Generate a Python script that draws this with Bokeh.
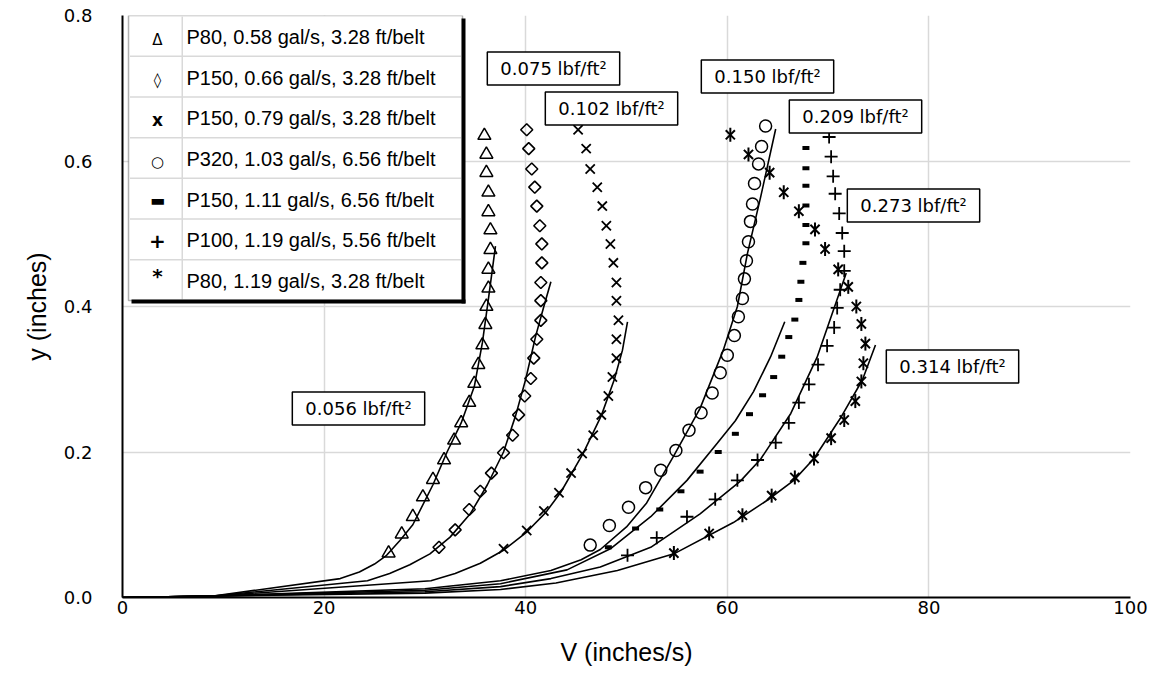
import math
from bokeh.plotting import figure
from bokeh.models import Range1d, Label, BoxAnnotation, FixedTicker, NumeralTickFormatter
from bokeh.embed import file_html
from bokeh.resources import INLINE

# ---------------- data ----------------
x_ticks = [0, 20, 40, 60, 80, 100]
y_ticks = [0.0, 0.2, 0.4, 0.6, 0.8]

# P80, 0.58 gal/s (triangles)
tri_v = [35.9, 36.1, 36.1, 36.3, 36.3, 36.5, 36.5, 36.3, 36.3, 36.1, 36.0, 35.7, 35.3, 34.9, 34.4, 33.6, 32.9, 31.9, 30.8, 29.8, 28.8, 27.7, 26.4]
tri_y = [0.635, 0.609, 0.584, 0.557, 0.530, 0.505, 0.478, 0.451, 0.425, 0.400, 0.375, 0.347, 0.320, 0.294, 0.268, 0.240, 0.216, 0.189, 0.162, 0.138, 0.111, 0.087, 0.061]
tri_fit_v = [0, 9, 21.6, 23.5, 25.0, 26.2, 27.5, 28.8, 30.8, 32.2, 33.6, 34.9, 35.7, 36.3, 37.0]
tri_fit_y = [0, 0.002, 0.026, 0.035, 0.046, 0.058, 0.078, 0.100, 0.155, 0.200, 0.240, 0.290, 0.350, 0.410, 0.483]

# P150, 0.66 gal/s (diamonds)
dia_v = [40.1, 40.3, 40.6, 40.9, 41.1, 41.4, 41.6, 41.6, 41.5, 41.5, 41.5, 41.1, 40.8, 40.5, 39.9, 39.3, 38.7, 37.8, 36.6, 35.5, 34.4, 33.0, 31.4]
dia_y = [0.643, 0.617, 0.589, 0.564, 0.538, 0.511, 0.486, 0.460, 0.433, 0.408, 0.381, 0.355, 0.329, 0.301, 0.277, 0.251, 0.223, 0.199, 0.171, 0.146, 0.121, 0.093, 0.069]
dia_fit_v = [0, 9, 24.3, 26.5, 28.5, 30.5, 32.5, 34.5, 36.2, 37.8, 39.0, 40.0, 41.0, 41.8, 42.5]
dia_fit_y = [0, 0.002, 0.023, 0.033, 0.045, 0.060, 0.083, 0.115, 0.155, 0.200, 0.250, 0.300, 0.360, 0.400, 0.434]

# P150, 0.79 gal/s (x)
x_v = [45.2, 46.0, 46.4, 47.1, 47.6, 48.0, 48.4, 48.7, 49.0, 49.0, 49.2, 49.0, 49.0, 48.6, 48.2, 47.5, 46.7, 45.6, 44.5, 43.3, 41.8, 40.1, 37.8]
x_y = [0.643, 0.617, 0.589, 0.564, 0.538, 0.511, 0.486, 0.460, 0.433, 0.408, 0.381, 0.355, 0.329, 0.303, 0.277, 0.251, 0.223, 0.198, 0.171, 0.144, 0.119, 0.092, 0.067]
x_fit_v = [0, 9, 30.6, 33.0, 35.5, 37.8, 40.1, 42.0, 43.5, 45.7, 47.5, 48.8, 49.6, 50.1]
x_fit_y = [0, 0.002, 0.023, 0.033, 0.047, 0.065, 0.090, 0.117, 0.145, 0.198, 0.250, 0.300, 0.340, 0.379]

# P320, 1.03 gal/s (circles)
cir_v = [63.8, 63.4, 63.1, 62.7, 62.5, 62.3, 62.1, 61.9, 61.7, 61.5, 61.1, 60.7, 60.0, 59.3, 58.5, 57.4, 56.2, 54.9, 53.4, 51.9, 50.2, 48.3, 46.4]
cir_y = [0.648, 0.620, 0.596, 0.569, 0.541, 0.517, 0.489, 0.463, 0.438, 0.411, 0.386, 0.360, 0.333, 0.309, 0.281, 0.254, 0.230, 0.202, 0.175, 0.151, 0.124, 0.099, 0.072]
cir_fit_v = [0, 9, 30, 37.5, 42.5, 45.5, 47.4, 50.0, 52.0, 54.7, 57.3, 59.6, 61.0, 62.0, 63.3, 64.8]
cir_fit_y = [0, 0.002, 0.012, 0.023, 0.037, 0.052, 0.066, 0.097, 0.130, 0.195, 0.260, 0.340, 0.400, 0.473, 0.550, 0.644]

# P150, 1.11 gal/s (dashes)
dash_v = [67.8, 67.8, 67.8, 67.8, 67.8, 67.8, 67.5, 67.3, 67.1, 66.7, 66.1, 65.4, 64.6, 63.5, 62.2, 60.8, 59.1, 57.3, 55.4, 53.3, 50.9, 48.2]
dash_y = [0.618, 0.590, 0.566, 0.539, 0.512, 0.487, 0.460, 0.434, 0.409, 0.382, 0.358, 0.331, 0.303, 0.278, 0.252, 0.225, 0.200, 0.173, 0.146, 0.121, 0.095, 0.069]
dash_fit_v = [0, 9, 30, 37.5, 44.1, 48.4, 52.4, 56.0, 59.0, 60.8, 62.6, 64.3, 65.7]
dash_fit_y = [0, 0.002, 0.010, 0.019, 0.038, 0.067, 0.111, 0.161, 0.212, 0.243, 0.283, 0.331, 0.379]

# P100, 1.19 gal/s (plus)
plus_v = [70.1, 70.3, 70.5, 70.7, 71.1, 71.4, 71.6, 71.6, 71.2, 70.9, 70.6, 69.9, 69.0, 68.1, 67.1, 66.1, 64.8, 63.0, 61.0, 58.8, 56.0, 53.0, 50.1]
plus_y = [0.633, 0.606, 0.579, 0.555, 0.528, 0.501, 0.476, 0.449, 0.423, 0.398, 0.371, 0.346, 0.320, 0.293, 0.268, 0.240, 0.213, 0.189, 0.161, 0.135, 0.111, 0.082, 0.058]
plus_fit_v = [0, 9, 30, 37.5, 42.5, 47.4, 52.4, 57.3, 61.3, 63.3, 66.3, 68.9, 71.8]
plus_fit_y = [0, 0.002, 0.008, 0.015, 0.026, 0.042, 0.069, 0.115, 0.160, 0.190, 0.253, 0.330, 0.446]

# P80, 1.19 gal/s (stars)
star_v = [60.3, 62.1, 64.2, 65.6, 67.1, 68.7, 69.7, 71.0, 72.0, 72.8, 73.3, 73.7, 73.5, 73.3, 72.7, 71.6, 70.3, 68.6, 66.7, 64.4, 61.5, 58.2, 54.7]
star_y = [0.636, 0.609, 0.584, 0.557, 0.531, 0.506, 0.479, 0.451, 0.427, 0.400, 0.376, 0.349, 0.322, 0.297, 0.270, 0.244, 0.219, 0.191, 0.165, 0.140, 0.113, 0.088, 0.061]
star_fit_v = [0, 9, 30, 37.5, 43.0, 49.1, 54.7, 60.6, 64.0, 66.6, 68.6, 71.2, 73.4, 74.7]
star_fit_y = [0, 0.002, 0.006, 0.011, 0.020, 0.037, 0.060, 0.103, 0.134, 0.161, 0.191, 0.246, 0.299, 0.347]

legend_symbols = ["\u0394", "\u25ca", "x", "\u25cb", "\u25ac", "+", "*"]
legend_labels = [
    "P80, 0.58 gal/s, 3.28 ft/belt",
    "P150, 0.66 gal/s, 3.28 ft/belt",
    "P150, 0.79 gal/s, 3.28 ft/belt",
    "P320, 1.03 gal/s, 6.56 ft/belt",
    "P150, 1.11 gal/s, 6.56 ft/belt",
    "P100, 1.19 gal/s, 5.56 ft/belt",
    "P80, 1.19 gal/s, 3.28 ft/belt",
]

ann_texts = ["0.056 lbf/ft\u00b2", "0.075 lbf/ft\u00b2", "0.102 lbf/ft\u00b2", "0.150 lbf/ft\u00b2",
             "0.209 lbf/ft\u00b2", "0.273 lbf/ft\u00b2", "0.314 lbf/ft\u00b2"]

# ---------------- layout ----------------
FRAME_L, FRAME_T, FRAME_W, FRAME_H = 122, 15, 1008, 582   # page pixels of plot frame
X_MAX, Y_MAX = 100.0, 0.8


def sx(px):
    return (px - FRAME_L) * X_MAX / FRAME_W


def sy(py):
    return (FRAME_T + FRAME_H - py) * Y_MAX / FRAME_H


ann_pos = [(358, 408), (553, 68), (611, 108), (767, 76), (855, 116), (913, 205), (952, 366)]

p = figure(frame_width=FRAME_W, frame_height=FRAME_H,
           min_border_left=FRAME_L, min_border_right=18,
           min_border_top=FRAME_T, min_border_bottom=84,
           x_range=Range1d(0, X_MAX), y_range=Range1d(0, Y_MAX),
           output_backend="svg", toolbar_location=None)
p.outline_line_color = None
p.background_fill_color = "white"

p.xaxis.ticker = FixedTicker(ticks=x_ticks)
p.yaxis.ticker = FixedTicker(ticks=y_ticks)
p.yaxis.formatter = NumeralTickFormatter(format="0.0")
p.grid.grid_line_color = "#d9d9d9"
p.grid.grid_line_width = 1.5

for ax in (p.xaxis, p.yaxis):
    ax.axis_line_color = "black"
    ax.axis_line_width = 2
    ax.major_tick_line_color = None
    ax.minor_tick_line_color = None
    ax.major_tick_out = 0
    ax.major_tick_in = 0
    ax.minor_tick_out = 0
    ax.minor_tick_in = 0
    ax.major_label_text_font = "DejaVu Sans"
    ax.major_label_text_font_size = "18px"
    ax.major_label_text_color = "black"
    ax.axis_label_text_font = "Liberation Sans"
    ax.axis_label_text_font_size = "25px"
    ax.axis_label_text_font_style = "normal"
    ax.axis_label_text_color = "black"

p.xaxis.axis_label = "V (inches/s)"
p.yaxis.axis_label = "y (inches)"
p.xaxis.major_label_standoff = 3
p.yaxis.major_label_standoff = 30
p.xaxis.axis_label_standoff = 21
p.yaxis.axis_label_standoff = 10

# fitted lines
for fv, fy in [(tri_fit_v, tri_fit_y), (dia_fit_v, dia_fit_y), (x_fit_v, x_fit_y),
               (cir_fit_v, cir_fit_y), (dash_fit_v, dash_fit_y), (plus_fit_v, plus_fit_y),
               (star_fit_v, star_fit_y)]:
    p.line(fv, fy, line_color="black", line_width=1.6)

# measured points
p.scatter(tri_v, tri_y, marker="triangle", size=13, fill_color=None, line_color="black", line_width=1.5)
p.scatter(dia_v, dia_y, marker="square", angle=math.pi / 4, size=8.5, fill_color=None, line_color="black", line_width=1.6)
p.scatter(x_v, x_y, marker="x", size=13, line_color="black", line_width=1.8)
p.scatter(cir_v, cir_y, marker="circle", size=12, fill_color=None, line_color="black", line_width=1.5)
p.scatter(dash_v, dash_y, marker="dash", size=7, line_color="black", line_width=4)
p.scatter(plus_v, plus_y, marker="cross", size=13, line_color="black", line_width=1.8)
# Excel-style star: an x with a vertical bar
p.scatter(star_v, star_y, marker="x", size=13, line_color="black", line_width=2)
p.scatter(star_v, star_y, marker="dash", angle=math.pi / 2, size=14, line_color="black", line_width=2)

# legend (drawn as a table)
LEG_L, LEG_R, LEG_T, LEG_B = 128, 462, 15, 300
row_h = (LEG_B - LEG_T) / 7.0
p.add_layout(BoxAnnotation(left=sx(LEG_L), right=sx(LEG_R), top=sy(LEG_T), bottom=sy(LEG_B),
                           fill_color="white", fill_alpha=1.0, line_color="black", line_width=1.5))
for k in range(1, 7):
    yy = LEG_T + k * row_h
    p.add_layout(BoxAnnotation(left=sx(LEG_L + 1.5), right=sx(LEG_R - 1.5), top=sy(yy - 0.75), bottom=sy(yy + 0.75),
                               fill_color="#d9d9d9", fill_alpha=1.0, line_color=None))
p.add_layout(BoxAnnotation(left=sx(181), right=sx(182.5), top=sy(LEG_T + 1), bottom=sy(LEG_B - 1),
                           fill_color="#d9d9d9", fill_alpha=1.0, line_color=None))
# shadow
p.add_layout(BoxAnnotation(left=sx(LEG_R - 1), right=sx(LEG_R + 3), top=sy(LEG_T + 3), bottom=sy(LEG_B + 3),
                           fill_color="black", fill_alpha=1.0, line_color=None))
p.add_layout(BoxAnnotation(left=sx(LEG_L + 3), right=sx(LEG_R + 3), top=sy(LEG_B - 1), bottom=sy(LEG_B + 3),
                           fill_color="black", fill_alpha=1.0, line_color=None))

sym_sizes = ["15px", "15px", "17px", "15px", "16px", "20px", "20px"]
sym_styles = ["normal", "normal", "bold", "normal", "normal", "bold", "bold"]
sym_dy = [4, 3, 3, 4, 2, 2, -4]
for k in range(7):
    cy = LEG_T + (k + 0.5) * row_h
    p.add_layout(Label(x=sx(157), y=sy(cy + sym_dy[k]), text=legend_symbols[k], text_align="center",
                       text_baseline="middle", text_font="DejaVu Sans", text_font_size=sym_sizes[k],
                       text_font_style=sym_styles[k], text_color="black"))
    p.add_layout(Label(x=sx(186), y=sy(cy + 1), text=legend_labels[k], text_align="left",
                       text_baseline="middle", text_font="Liberation Sans", text_font_size="20px",
                       text_color="black"))

# shear-stress annotations
for t, (cx, cy) in zip(ann_texts, ann_pos):
    p.add_layout(Label(x=sx(cx), y=sy(cy), text=t, text_align="center", text_baseline="middle",
                       text_font="DejaVu Sans", text_font_size="18px", text_color="black",
                       border_line_color="black", border_line_width=1.5,
                       background_fill_color="white", background_fill_alpha=1.0,
                       padding=(13, 13, 6, 6)))

open("out.html", "w").write(file_html(p, INLINE))
